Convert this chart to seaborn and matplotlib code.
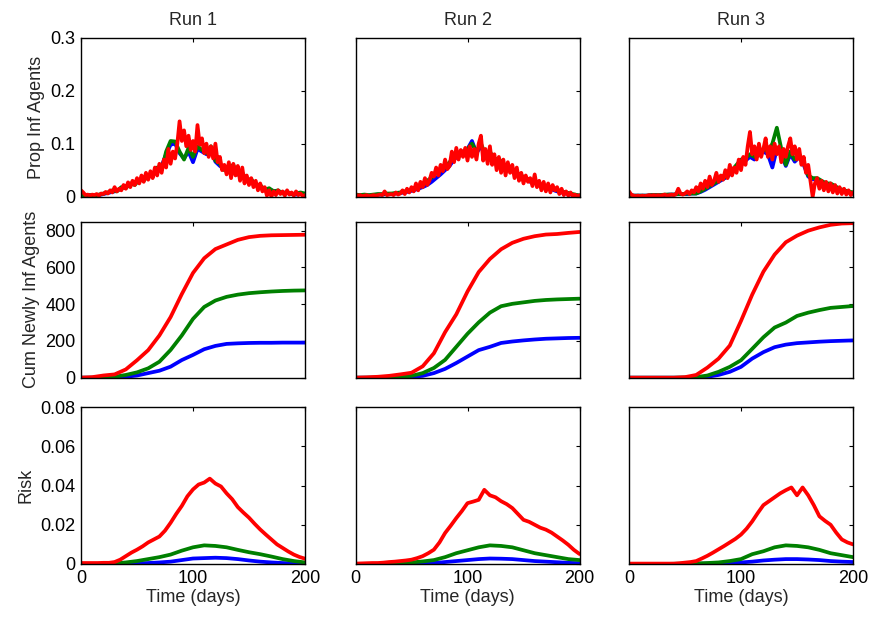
import numpy as np
import pandas as pd
import matplotlib
matplotlib.use("Agg")
import matplotlib.pyplot as plt
import seaborn as sns

# ---------- data ----------

RUNS = ["Run 1", "Run 2", "Run 3"]
GROUPS = ["blue", "green", "red"]
PALETTE = {"blue": "#0000ff", "green": "#008000", "red": "#ff0000"}

DAYS_PROP = list(range(0, 201, 4))     # 51 points
DAYS_PROP_RED = list(range(0, 201, 2)) # 101 points
DAYS_CUM = list(range(0, 201, 10))     # 21 points
DAYS_RISK = list(range(0, 201, 10))    # 21 points
DAYS_RISK_RED = list(range(0, 201, 5)) # 41 points

# proportion of infected agents (top row)
prop_r1_blue = [0.004, 0.002, 0.003, 0.002, 0.003, 0.005, 0.007, 0.009, 0.011, 0.016, 0.019, 0.023,
                0.027, 0.030, 0.034, 0.038, 0.043, 0.052, 0.058, 0.080, 0.098, 0.100, 0.082, 0.072,
                0.085, 0.065, 0.090, 0.085, 0.080, 0.090, 0.066, 0.058, 0.052, 0.047, 0.055, 0.042,
                0.038, 0.033, 0.028, 0.023, 0.018, 0.014, 0.013, 0.011, 0.009, 0.008, 0.007, 0.005,
                0.004, 0.006, 0.004]
prop_r1_green = [0.004, 0.002, 0.003, 0.002, 0.004, 0.006, 0.008, 0.012, 0.010, 0.018, 0.016, 0.025,
                 0.022, 0.032, 0.030, 0.040, 0.038, 0.055, 0.050, 0.085, 0.105, 0.104, 0.085, 0.070,
                 0.092, 0.075, 0.095, 0.088, 0.082, 0.095, 0.068, 0.062, 0.050, 0.055, 0.060, 0.042,
                 0.045, 0.032, 0.033, 0.022, 0.022, 0.013, 0.016, 0.010, 0.012, 0.006, 0.009, 0.005,
                 0.006, 0.008, 0.006]
prop_r1_red = [0.012, 0.008, 0.003, 0.004, 0.002, 0.004, 0.003, 0.005, 0.002, 0.006,
               0.005, 0.009, 0.006, 0.012, 0.008, 0.018, 0.010, 0.015, 0.012, 0.022,
               0.015, 0.027, 0.018, 0.030, 0.022, 0.035, 0.025, 0.040, 0.028, 0.045,
               0.032, 0.048, 0.035, 0.055, 0.040, 0.062, 0.045, 0.070, 0.055, 0.090,
               0.062, 0.085, 0.072, 0.100, 0.142, 0.105, 0.125, 0.095, 0.115, 0.088,
               0.105, 0.085, 0.135, 0.098, 0.110, 0.082, 0.100, 0.075, 0.095, 0.072,
               0.100, 0.065, 0.075, 0.050, 0.060, 0.042, 0.065, 0.035, 0.062, 0.040,
               0.058, 0.030, 0.055, 0.025, 0.040, 0.022, 0.035, 0.018, 0.030, 0.012,
               0.025, 0.010, 0.018, 0.002, 0.012, 0.000, 0.010, 0.003, 0.012, 0.005,
               0.010, 0.002, 0.012, 0.004, 0.008, 0.002, 0.010, 0.003, 0.006, 0.001,
               0.003]

prop_r2_blue = [0.004, 0.003, 0.003, 0.002, 0.003, 0.004, 0.004, 0.005, 0.005, 0.006, 0.007, 0.008,
                0.010, 0.012, 0.015, 0.018, 0.022, 0.028, 0.035, 0.042, 0.050, 0.058, 0.070, 0.078,
                0.085, 0.090, 0.105, 0.082, 0.095, 0.078, 0.082, 0.068, 0.070, 0.058, 0.052, 0.048,
                0.043, 0.038, 0.033, 0.028, 0.027, 0.023, 0.018, 0.017, 0.013, 0.010, 0.008, 0.006,
                0.004, 0.003, 0.002]
prop_r2_green = [0.004, 0.003, 0.004, 0.003, 0.004, 0.005, 0.005, 0.006, 0.006, 0.007, 0.008, 0.010,
                 0.012, 0.015, 0.020, 0.024, 0.030, 0.036, 0.045, 0.050, 0.055, 0.065, 0.075, 0.080,
                 0.085, 0.090, 0.100, 0.085, 0.100, 0.080, 0.085, 0.070, 0.072, 0.060, 0.055, 0.050,
                 0.045, 0.040, 0.035, 0.030, 0.030, 0.025, 0.020, 0.020, 0.015, 0.012, 0.010, 0.008,
                 0.006, 0.004, 0.002]
prop_r2_red = [0.004, 0.002, 0.003, 0.001, 0.002, 0.003, 0.001, 0.002, 0.003, 0.002,
               0.003, 0.004, 0.003, 0.010, 0.003, 0.004, 0.005, 0.003, 0.008, 0.004,
               0.006, 0.012, 0.005, 0.015, 0.008, 0.018, 0.010, 0.025, 0.012, 0.028,
               0.018, 0.035, 0.022, 0.030, 0.045, 0.038, 0.055, 0.040, 0.060, 0.048,
               0.070, 0.052, 0.058, 0.085, 0.065, 0.092, 0.070, 0.088, 0.075, 0.092,
               0.068, 0.095, 0.075, 0.090, 0.070, 0.100, 0.115, 0.068, 0.090, 0.062,
               0.095, 0.060, 0.080, 0.050, 0.075, 0.045, 0.070, 0.040, 0.065, 0.045,
               0.060, 0.035, 0.055, 0.030, 0.045, 0.025, 0.040, 0.028, 0.035, 0.020,
               0.042, 0.018, 0.030, 0.012, 0.028, 0.010, 0.025, 0.008, 0.022, 0.012,
               0.018, 0.005, 0.015, 0.003, 0.010, 0.002, 0.008, 0.001, 0.004, 0.001,
               0.003]

prop_r3_blue = [0.003, 0.002, 0.002, 0.002, 0.002, 0.003, 0.003, 0.003, 0.003, 0.004, 0.004, 0.005,
                0.005, 0.005, 0.006, 0.006, 0.009, 0.013, 0.018, 0.023, 0.028, 0.033, 0.038, 0.047,
                0.057, 0.066, 0.068, 0.075, 0.070, 0.080, 0.085, 0.080, 0.055, 0.090, 0.080, 0.058,
                0.080, 0.066, 0.075, 0.060, 0.038, 0.033, 0.032, 0.028, 0.023, 0.022, 0.018, 0.013,
                0.010, 0.008, 0.006]
prop_r3_green = [0.003, 0.002, 0.002, 0.002, 0.002, 0.003, 0.003, 0.003, 0.004, 0.004, 0.004, 0.005,
                 0.005, 0.006, 0.006, 0.006, 0.010, 0.015, 0.020, 0.025, 0.030, 0.035, 0.040, 0.050,
                 0.060, 0.070, 0.072, 0.080, 0.075, 0.085, 0.090, 0.085, 0.100, 0.130, 0.090, 0.060,
                 0.085, 0.070, 0.080, 0.065, 0.040, 0.035, 0.035, 0.030, 0.025, 0.025, 0.020, 0.015,
                 0.012, 0.010, 0.008]
prop_r3_red = [0.010, 0.004, 0.002, 0.001, 0.002, 0.001, 0.002, 0.001, 0.002, 0.003,
               0.002, 0.003, 0.002, 0.003, 0.002, 0.003, 0.004, 0.002, 0.003, 0.004,
               0.003, 0.005, 0.015, 0.006, 0.004, 0.006, 0.010, 0.005, 0.012, 0.008,
               0.018, 0.010, 0.025, 0.015, 0.030, 0.018, 0.038, 0.022, 0.030, 0.045,
               0.028, 0.040, 0.032, 0.050, 0.035, 0.060, 0.040, 0.055, 0.045, 0.070,
               0.050, 0.075, 0.060, 0.095, 0.122, 0.080, 0.095, 0.070, 0.100, 0.075,
               0.090, 0.110, 0.075, 0.095, 0.070, 0.100, 0.080, 0.095, 0.065, 0.090,
               0.075, 0.095, 0.110, 0.080, 0.095, 0.070, 0.090, 0.060, 0.075, 0.045,
               0.060, 0.030, 0.000, 0.025, 0.035, 0.015, 0.030, 0.012, 0.028, 0.010,
               0.025, 0.008, 0.022, 0.006, 0.018, 0.005, 0.015, 0.004, 0.012, 0.003,
               0.008]

# cumulative newly infected agents (middle row)
cum_r1_blue = [0, 0, 0, 1, 5, 12, 25, 38, 60, 96, 124, 155, 173, 184, 187, 189, 190, 190, 191, 191, 191]
cum_r1_green = [0, 0, 2, 5, 15, 29, 51, 87, 151, 230, 320, 385, 420, 440, 452, 460, 465, 469, 472, 474, 475]
cum_r1_red = [0, 3, 12, 18, 45, 95, 150, 230, 330, 455, 570, 650, 700, 725, 750, 765, 772, 775, 776, 777, 778]

cum_r2_blue = [0, 0, 0, 0, 2, 5, 10, 25, 48, 80, 115, 150, 168, 189, 197, 203, 208, 212, 214, 216, 217]
cum_r2_green = [0, 0, 1, 2, 5, 10, 25, 53, 97, 168, 239, 301, 354, 389, 402, 410, 418, 423, 426, 428, 430]
cum_r2_red = [0, 2, 5, 10, 18, 27, 62, 133, 248, 345, 469, 575, 646, 699, 734, 756, 770, 779, 782, 788, 793]

cum_r3_blue = [0, 0, 0, 0, 0, 0, 2, 5, 15, 32, 59, 104, 139, 166, 180, 188, 192, 196, 199, 201, 203]
cum_r3_green = [0, 0, 0, 0, 0, 1, 3, 12, 32, 59, 95, 157, 220, 273, 300, 336, 354, 368, 380, 385, 390]
cum_r3_red = [0, 0, 0, 0, 0, 3, 15, 55, 104, 175, 309, 452, 577, 670, 737, 773, 800, 818, 832, 839, 841]

# risk (bottom row)
risk_r1_blue = [0, 0, 0, 0.0001, 0.0002, 0.0003, 0.0005, 0.0008, 0.0012, 0.0020, 0.0028,
                0.0030, 0.0032, 0.0030, 0.0025, 0.0018, 0.0012, 0.0008, 0.0005, 0.0003, 0.0002]
risk_r1_green = [0, 0, 0.0001, 0.0003, 0.0008, 0.0015, 0.0025, 0.0035, 0.0048, 0.0068, 0.0085,
                 0.0095, 0.0092, 0.0085, 0.0072, 0.0060, 0.0050, 0.0038, 0.0025, 0.0015, 0.0008]
risk_r1_red = [0.0005, 0.0005, 0.0005, 0.0005, 0.0006, 0.0006, 0.0010, 0.0022, 0.0040, 0.0058,
               0.0073, 0.0090, 0.0110, 0.0125, 0.0140, 0.0170, 0.0210, 0.0255, 0.0296, 0.0345,
               0.0380, 0.0405, 0.0415, 0.0435, 0.0410, 0.0395, 0.0360, 0.0330, 0.0290, 0.0262,
               0.0236, 0.0205, 0.0176, 0.0150, 0.0125, 0.0100, 0.0082, 0.0064, 0.0048, 0.0036,
               0.0027]

risk_r2_blue = [0, 0, 0, 0, 0.0001, 0.0002, 0.0003, 0.0005, 0.0010, 0.0015, 0.0020,
                0.0025, 0.0028, 0.0027, 0.0025, 0.0020, 0.0015, 0.0012, 0.0009, 0.0006, 0.0004]
risk_r2_green = [0, 0, 0.0001, 0.0002, 0.0004, 0.0008, 0.0013, 0.0020, 0.0035, 0.0055, 0.0070,
                 0.0085, 0.0095, 0.0092, 0.0085, 0.0070, 0.0055, 0.0045, 0.0035, 0.0025, 0.0020]
risk_r2_red = [0.0002, 0.0003, 0.0004, 0.0005, 0.0005, 0.0007, 0.0010, 0.0012, 0.0015, 0.0018,
               0.0022, 0.0030, 0.0040, 0.0055, 0.0073, 0.0110, 0.0158, 0.0195, 0.0234, 0.0270,
               0.0310, 0.0318, 0.0327, 0.0378, 0.0350, 0.0340, 0.0320, 0.0305, 0.0285, 0.0255,
               0.0225, 0.0215, 0.0200, 0.0185, 0.0175, 0.0160, 0.0140, 0.0120, 0.0098, 0.0072,
               0.0051]

risk_r3_blue = [0, 0, 0, 0, 0, 0, 0.0001, 0.0002, 0.0003, 0.0005, 0.0008,
                0.0012, 0.0018, 0.0022, 0.0025, 0.0025, 0.0023, 0.0020, 0.0015, 0.0012, 0.0010]
risk_r3_green = [0, 0, 0, 0, 0.0001, 0.0002, 0.0003, 0.0005, 0.0008, 0.0015, 0.0025,
                 0.0050, 0.0065, 0.0085, 0.0095, 0.0092, 0.0085, 0.0072, 0.0055, 0.0045, 0.0035]
risk_r3_red = [0.0002, 0.0002, 0.0002, 0.0002, 0.0002, 0.0002, 0.0002, 0.0002, 0.0002, 0.0004,
               0.0007, 0.0010, 0.0015, 0.0028, 0.0042, 0.0058, 0.0075, 0.0092, 0.0110, 0.0128,
               0.0150, 0.0180, 0.0217, 0.0260, 0.0300, 0.0320, 0.0340, 0.0360, 0.0376, 0.0390,
               0.0350, 0.0390, 0.0350, 0.0300, 0.0243, 0.0220, 0.0200, 0.0160, 0.0125, 0.0110,
               0.0100]

ROW_LABELS = ["Prop Inf Agents", "Cum Newly Inf Agents", "Risk"]
PROP_TICKS = [0, 0.1, 0.2, 0.3]
PROP_TICKLABELS = ["0", "0.1", "0.2", "0.3"]
CUM_TICKS = [0, 200, 400, 600, 800]
CUM_TICKLABELS = ["0", "200", "400", "600", "800"]
RISK_TICKS = [0, 0.02, 0.04, 0.06, 0.08]
RISK_TICKLABELS = ["0", "0.02", "0.04", "0.06", "0.08"]
X_TICKS = [0, 100, 200]
X_TICKLABELS = ["0", "100", "200"]


def _long(series):
    """series: list of (group, days, values) -> long frame for seaborn."""
    parts = [pd.DataFrame({"day": d, "value": v, "group": g}) for g, d, v in series]
    return pd.concat(parts, ignore_index=True)


panels = [
    [  # top row
        _long([("blue", DAYS_PROP, prop_r1_blue), ("green", DAYS_PROP, prop_r1_green), ("red", DAYS_PROP_RED, prop_r1_red)]),
        _long([("blue", DAYS_PROP, prop_r2_blue), ("green", DAYS_PROP, prop_r2_green), ("red", DAYS_PROP_RED, prop_r2_red)]),
        _long([("blue", DAYS_PROP, prop_r3_blue), ("green", DAYS_PROP, prop_r3_green), ("red", DAYS_PROP_RED, prop_r3_red)]),
    ],
    [  # middle row
        _long([("blue", DAYS_CUM, cum_r1_blue), ("green", DAYS_CUM, cum_r1_green), ("red", DAYS_CUM, cum_r1_red)]),
        _long([("blue", DAYS_CUM, cum_r2_blue), ("green", DAYS_CUM, cum_r2_green), ("red", DAYS_CUM, cum_r2_red)]),
        _long([("blue", DAYS_CUM, cum_r3_blue), ("green", DAYS_CUM, cum_r3_green), ("red", DAYS_CUM, cum_r3_red)]),
    ],
    [  # bottom row
        _long([("blue", DAYS_RISK, risk_r1_blue), ("green", DAYS_RISK, risk_r1_green), ("red", DAYS_RISK_RED, risk_r1_red)]),
        _long([("blue", DAYS_RISK, risk_r2_blue), ("green", DAYS_RISK, risk_r2_green), ("red", DAYS_RISK_RED, risk_r2_red)]),
        _long([("blue", DAYS_RISK, risk_r3_blue), ("green", DAYS_RISK, risk_r3_green), ("red", DAYS_RISK_RED, risk_r3_red)]),
    ],
]

row_ylims = [(0, 0.3), (0, 850), (0, 0.08)]
row_ticks = [(PROP_TICKS, PROP_TICKLABELS), (CUM_TICKS, CUM_TICKLABELS), (RISK_TICKS, RISK_TICKLABELS)]

# ---------- figure ----------

sns.set_style("white")
plt.rcParams["font.family"] = ["Liberation Sans", "DejaVu Sans"]
plt.rcParams["font.size"] = 13

fig = plt.figure(figsize=(8.75, 6.24), dpi=100)

W, H = 875.0, 624.0
col_left = [81, 355.5, 629]
col_width = 224
row_top = [37.5, 221.5, 407]
row_bottom = [196.7, 377.7, 564]

for i in range(3):
    for j in range(3):
        ax = fig.add_axes([col_left[j] / W, 1 - row_bottom[i] / H,
                           col_width / W, (row_bottom[i] - row_top[i]) / H])
        sns.lineplot(data=panels[i][j], x="day", y="value", hue="group",
                     hue_order=GROUPS, palette=PALETTE, estimator=None,
                     sort=False, linewidth=2.7, legend=False, ax=ax)
        ax.set_xlim(0, 200)
        ax.set_ylim(*row_ylims[i])
        ticks, labels = row_ticks[i]
        ax.set_yticks(ticks)
        ax.set_yticklabels(labels if j == 0 else [])
        ax.set_xticks(X_TICKS)
        ax.set_xticklabels(X_TICKLABELS if i == 2 else [])
        ax.tick_params(direction="in", top=True, right=True, length=3,
                       width=0.8, labelsize=13, colors="black", pad=4)
        for sp in ax.spines.values():
            sp.set_color("black")
            sp.set_linewidth(1.0)
        ax.set_xlabel("Time (days)" if i == 2 else "", fontsize=13, labelpad=2)
        ax.set_ylabel(ROW_LABELS[i] if j == 0 else "", fontsize=13)
        if i == 0:
            ax.set_title(RUNS[j], fontsize=13, pad=9)

fig.savefig("out.png", dpi=100)
